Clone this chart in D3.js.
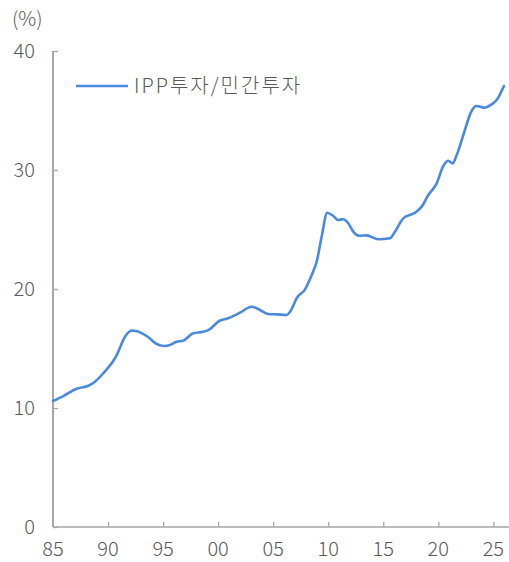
<!DOCTYPE html>
<html><head><meta charset="utf-8">
<script src="https://cdn.jsdelivr.net/npm/d3@7"></script>
<style>
html,body{margin:0;padding:0;background:#fff;}
svg{display:block;}
</style></head>
<body>
<script>
// decimal year of each reading
const years = [1985.0,1985.94,1987.15,1988.21,1988.81,1989.57,1990.79,1991.54,1992.15,1992.54,1993.51,1994.42,1995.08,1995.63,1996.17,1996.83,1997.74,1998.65,1999.11,2000.10,2000.92,2001.98,2003.05,2003.50,2004.55,2005.32,2006.23,2006.53,2007.19,2007.89,2008.50,2008.95,2009.40,2009.91,2010.46,2010.91,2011.37,2011.82,2012.27,2012.82,2013.49,2014.55,2015.61,2016.06,2016.82,2017.88,2018.49,2019.09,2019.85,2020.45,2020.90,2021.30,2021.67,2022.27,2023.03,2023.48,2024.15,2024.85,2025.30,2025.96];
// IPP investment / private investment (%)
const ippShare = [10.59,11.0,11.62,11.87,12.21,12.92,14.45,15.99,16.50,16.47,16.05,15.38,15.21,15.29,15.55,15.66,16.28,16.41,16.55,17.31,17.54,18.01,18.51,18.38,17.90,17.87,17.82,18.09,19.30,19.97,21.18,22.29,24.39,26.41,26.13,25.80,25.86,25.52,24.82,24.48,24.51,24.18,24.26,24.82,25.94,26.41,26.92,27.90,28.88,30.34,30.78,30.56,31.26,32.94,34.98,35.38,35.24,35.52,35.88,37.06];
const xTickYears = [1985,1990,1995,2000,2005,2010,2015,2020,2025];
const xTickLabels = ["85","90","95","00","05","10","15","20","25"];
const yTicks = [0,10,20,30,40];
const seriesName = "IPP투자/민간투자";
const unitLabel = "(%)";

const W = 509, H = 562;
const axisColor = "#a6a6a6", textColor = "#595959", lineColor = "#4a89dc";
const font = "'Noto Sans CJK KR','Noto Sans',sans-serif";
const fw = 300;

const svg = d3.select("body").append("svg").attr("width", W).attr("height", H);
const x = d3.scaleLinear().domain([1985, 2026.42]).range([53, 509]);
const y = d3.scaleLinear().domain([0, 40]).range([527, 51]);

// y axis
const yAxis = d3.axisRight(y).tickValues(yTicks).tickSize(5).tickFormat("");
const gy = svg.append("g").attr("transform", `translate(${x(1985)},0)`).call(yAxis);
gy.select(".domain").remove();
gy.selectAll(".tick line").attr("stroke", axisColor).attr("stroke-width", 1.3);
svg.append("line").attr("x1", x(1985)).attr("x2", x(1985)).attr("y1", y(40)).attr("y2", y(0))
  .attr("stroke", axisColor).attr("stroke-width", 2);
svg.selectAll(".ylab").data(yTicks).enter().append("text")
  .attr("x", 35).attr("y", d => y(d)).attr("text-anchor", "end").attr("dy", "0.35em")
  .attr("font-family", font).attr("font-weight", fw).attr("font-size", 20).attr("fill", textColor).text(d => d);

// x axis
const xAxis = d3.axisTop(x).tickValues(xTickYears.slice(1)).tickSize(5).tickFormat("");
const gx = svg.append("g").attr("transform", `translate(0,${y(0)})`).call(xAxis);
gx.select(".domain").remove();
gx.selectAll(".tick line").attr("stroke", axisColor).attr("stroke-width", 1.3);
svg.append("line").attr("x1", x(1985)).attr("x2", W).attr("y1", y(0)).attr("y2", y(0))
  .attr("stroke", axisColor).attr("stroke-width", 1.5);
svg.selectAll(".xlab").data(xTickYears).enter().append("text")
  .attr("x", d => x(d)).attr("y", 549).attr("text-anchor", "middle").attr("dy", "0.35em")
  .attr("font-family", font).attr("font-weight", fw).attr("font-size", 20).attr("fill", textColor)
  .text((d, i) => xTickLabels[i]);

// unit
svg.append("text").attr("x", 12).attr("y", 19).attr("dy", "0.35em")
  .attr("font-family", font).attr("font-weight", fw).attr("font-size", 20).attr("fill", textColor).text(unitLabel);

// line
const data = years.map((yr, i) => ({yr, v: ippShare[i]}));
svg.append("path").datum(data)
  .attr("d", d3.line().x(d => x(d.yr)).y(d => y(d.v)).curve(d3.curveMonotoneX))
  .attr("fill", "none").attr("stroke", lineColor).attr("stroke-width", 2.6)
  .attr("stroke-linejoin", "round").attr("stroke-linecap", "round");

// legend
svg.append("line").attr("x1", 76).attr("x2", 128).attr("y1", 86).attr("y2", 86)
  .attr("stroke", lineColor).attr("stroke-width", 2.6);
svg.append("text").attr("x", 134).attr("y", 86).attr("dy", "0.35em")
  .attr("font-family", font).attr("font-weight", fw).attr("font-size", 20).attr("letter-spacing", 2)
  .attr("fill", textColor).text(seriesName);
</script>
</body></html>
